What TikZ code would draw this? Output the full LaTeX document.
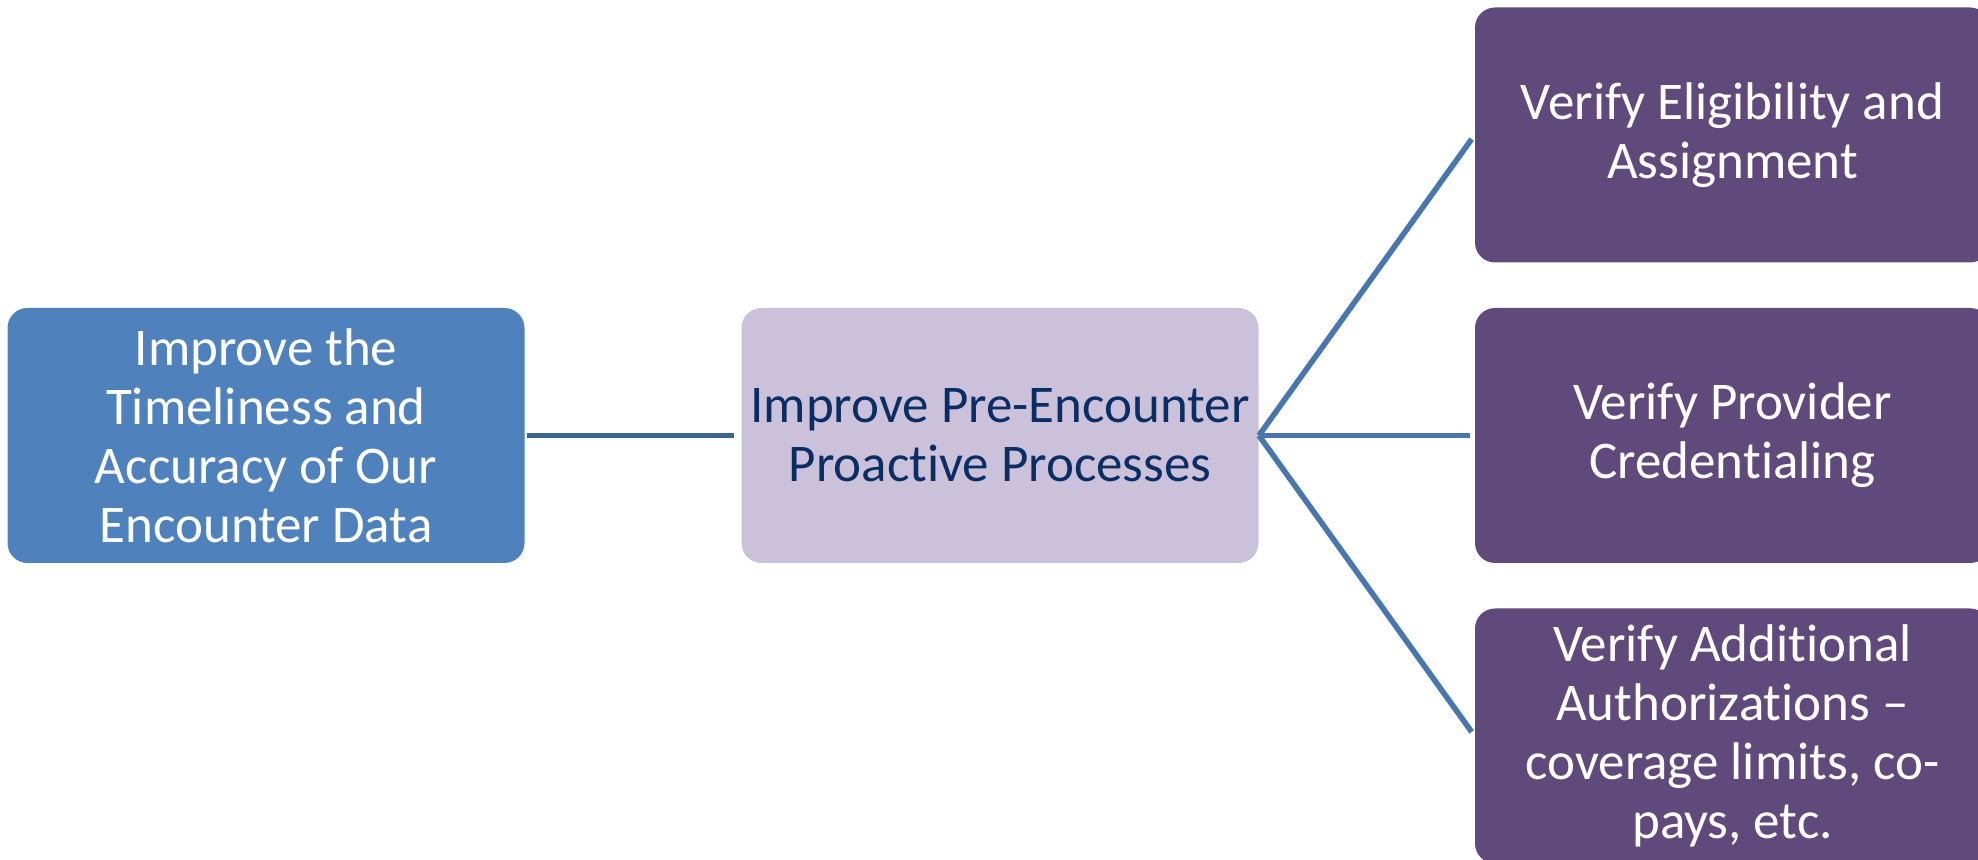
\documentclass[tikz,border=0pt]{standalone}
\usepackage{fontspec}
\setmainfont{Carlito}[RawFeature=-liga,RawFeature=-clig,RawFeature=-dlig,RawFeature=-calt]
\definecolor{goalblue}{RGB}{79,129,189}
\definecolor{lavender}{RGB}{204,193,218}
\definecolor{navy}{RGB}{10,45,100}
\definecolor{plum}{RGB}{96,74,123}
\definecolor{linkdark}{RGB}{60,100,150}
\definecolor{linkblue}{RGB}{74,118,176}
\usetikzlibrary{positioning}
\tikzset{
  card/.style={rounded corners=10pt, inner sep=4pt, align=center,
              minimum width=258.5pt, minimum height=127.5pt,
              font=\fontsize{26.5}{29.5}\selectfont},
  goal/.style={card, fill=goalblue, text=white},
  proc/.style={card, fill=lavender, text=navy},
  task/.style={card, fill=plum, text=white, minimum width=257.5pt},
  link/.style={line width=2.8pt, linkblue, shorten >=2.5pt},
}

\begin{document}
\begin{tikzpicture}[x=0.5pt,y=-0.5pt]
    \useasboundingbox (0,0) rectangle (1978,860);
    \node[goal] (aim) at (266,435.5) {Improve the\\Timeliness and\\Accuracy of Our\\Encounter Data};
    \node[proc] (pre) at (1000,435.5) {Improve Pre-Encounter\\Proactive Processes};
    \node[task] (elig) at (1732.5,135) {Verify Eligibility and\\Assignment};
    \node[task] (cred) at (1732.5,435.5) {Verify Provider\\Credentialing};
    \node[task] (auth) at (1732.5,736) {Verify Additional\\Authorizations --\\coverage limits, co-\\pays, etc.};
    \draw[link, linkdark, shorten <=1pt, shorten >=3.5pt] (aim.east) -- (pre.west);
    \foreach \t in {elig,cred,auth}
      \draw[link] (pre.east) -- (\t.west);
  \end{tikzpicture}
\end{document}
